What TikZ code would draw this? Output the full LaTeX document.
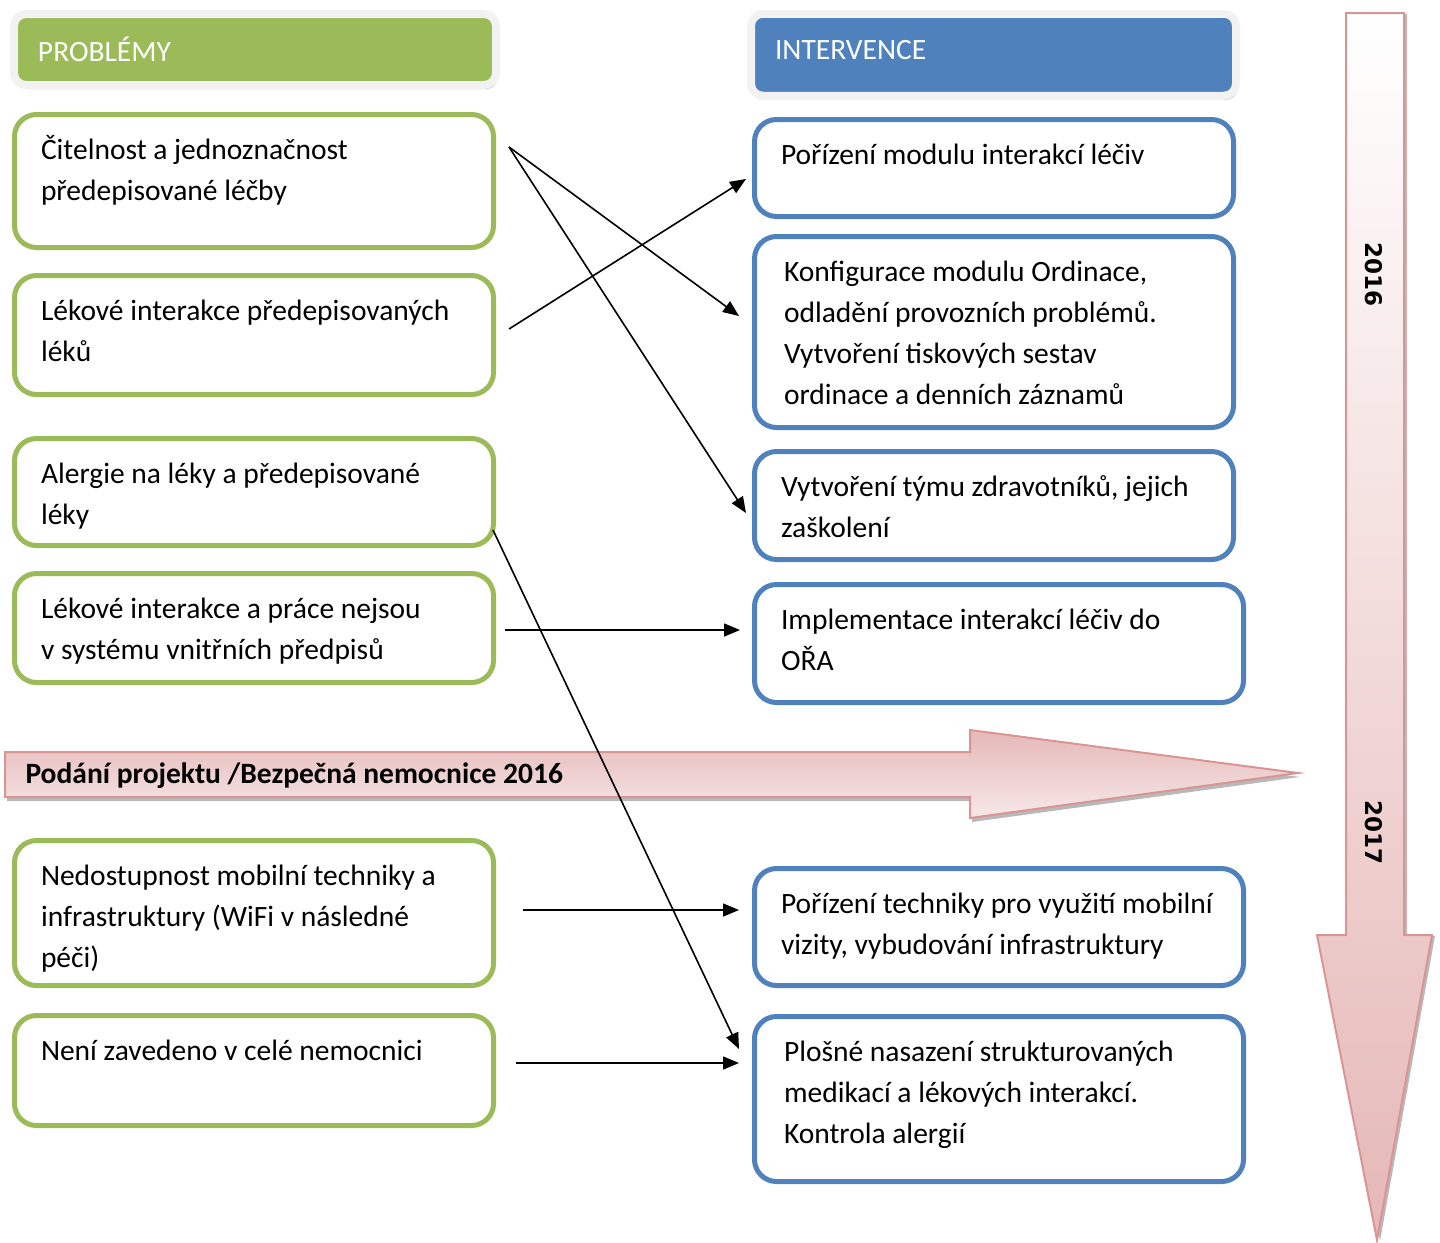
\documentclass[tikz,border=0pt]{standalone}
\usepackage{fontspec}
\setmainfont{Carlito}
\newfontfamily\yearfont{DejaVu Sans}
\usetikzlibrary{arrows.meta,shadows}
\definecolor{probgreen}{HTML}{9BBB59}
\definecolor{intblue}{HTML}{4F81BD}
\definecolor{hdgray}{HTML}{F2F2F2}
\definecolor{pinkline}{HTML}{D99594}
\definecolor{pinkdark}{HTML}{E5B8B7}
\definecolor{pinklight}{HTML}{F7E9E9}
\newcommand{\boxtxt}[3][426bp]{\parbox[c][#2][t]{#1}{\strut #3}}

\begin{document}
\begin{tikzpicture}[x=1bp,y=-1bp,
                    every node/.style={font=\fontsize{29.5bp}{41bp}\selectfont},
                    tbox/.style={rounded corners=22bp,line width=5bp,fill=white,
                                 anchor=north west,minimum width=479bp,outer sep=0pt,
                                 inner xsep=26.5bp,inner ysep=16bp,align=left},
                    gbox/.style={tbox,draw=probgreen},
                    bbox/.style={tbox,draw=intblue},
                    hdbox/.style={rounded corners=12bp,line width=8bp,draw=hdgray,
                                  text=white,align=left,
                                  drop shadow={shadow xshift=2bp,shadow yshift=-4bp,
                                               fill=gray!55,opacity=1}},
                    conn/.style={line width=1.6bp,-{Triangle[length=16bp,width=13bp]}},
                    bigarrow/.style={draw=pinkline,line width=2bp,line join=miter},
                    yearlab/.style={font=\yearfont\bfseries\fontsize{23bp}{28bp}\selectfont}
                   ]
 \useasboundingbox (0,0) rectangle (1440,1242);

 % headers
 \node[hdbox,fill=probgreen,minimum width=482bp,minimum height=71bp,
       text width=434bp] (probhd) at (255,49.5) {\raisebox{1bp}{PROBLÉMY}};
 \node[hdbox,fill=intblue,minimum width=485bp,minimum height=82bp,
       text width=437bp] (inthd) at (993.5,54.75) {\raisebox{10bp}{INTERVENCE}};

 % problems
 \node[gbox,minimum height=133bp] (p1) at (14.5,114.5)
      {\boxtxt{101bp}{Čitelnost a jednoznačnost\\předepisované léčby}};
 \node[gbox,minimum height=119bp] (p2) at (14.5,275.5)
      {\boxtxt{87bp}{Lékové interakce předepisovaných\\léků}};
 \node[gbox,minimum height=107bp] (p3) at (14.5,438.5)
      {\boxtxt{75bp}{Alergie na léky a předepisované\\léky}};
 \node[gbox,minimum height=109bp] (p4) at (14.5,573.5)
      {\boxtxt{77bp}{Lékové interakce a práce nejsou\\v systému vnitřních předpisů}};
 \node[gbox,minimum height=145bp] (p5) at (14.5,840.5)
      {\boxtxt{113bp}{Nedostupnost mobilní techniky a\\infrastruktury (WiFi v následné\\péči)}};
 \node[gbox,minimum height=110bp] (p6) at (14.5,1015.5)
      {\boxtxt{78bp}{Není zavedeno v celé nemocnici}};

 % interventions
 \node[bbox,minimum height=97bp] (i1) at (754.5,119.5)
      {\boxtxt{65bp}{Pořízení modulu interakcí léčiv}};
 \node[bbox,minimum height=191bp,inner xsep=29.5bp] (i2) at (754.5,236.5)
      {\boxtxt[420bp]{159bp}{Konfigurace modulu Ordinace,\\odladění provozních problémů.\\Vytvoření tiskových sestav\\ordinace a denních záznamů}};
 \node[bbox,minimum height=108bp] (i3) at (754.5,451.5)
      {\boxtxt{76bp}{Vytvoření týmu zdravotníků, jejich\\zaškolení}};
 \node[bbox,minimum width=489bp,minimum height=118bp] (i4) at (754.5,584.5)
      {\boxtxt[436bp]{86bp}{Implementace interakcí léčiv do\\OŘA}};
 \node[bbox,minimum width=489bp,minimum height=117bp] (i5) at (754.5,868.5)
      {\boxtxt[436bp]{85bp}{Pořízení techniky pro využití mobilní\\vizity, vybudování infrastruktury}};
 \node[bbox,minimum width=489bp,minimum height=165bp,inner xsep=29.5bp] (i6) at (754.5,1016.5)
      {\boxtxt[430bp]{133bp}{Plošné nasazení strukturovaných\\medikací a lékových interakcí.\\Kontrola alergií}};

 % project arrow
 \draw[bigarrow,top color=pinkdark,bottom color=pinklight,
       drop shadow={shadow xshift=2bp,shadow yshift=-4bp,fill=gray!55,opacity=1}]
      (5,752) -- (970,752) -- (970,730) -- (1298,773) -- (970,818)
      -- (970,797) -- (5,797) -- cycle;
 \node[font=\bfseries\fontsize{29.5bp}{32bp}\selectfont,anchor=west] (projlab)
      at (22,776) {Podání projektu /Bezpečná nemocnice 2016};

 % time arrow
 \draw[bigarrow,top color=white,bottom color=pinkdark,
       drop shadow={shadow xshift=3bp,shadow yshift=-1bp,fill=gray!55,opacity=1}]
      (1346,13) -- (1404,13) -- (1404,935) -- (1432,935) -- (1377,1240)
      -- (1317,935) -- (1346,935) -- cycle;
 \node[yearlab,rotate=-90] (y16) at (1374,274) {2016};
 \node[yearlab,rotate=-90] (y17) at (1374,832) {2017};

 % connectors
 \coordinate (s1) at (509,147);
 \coordinate (s2) at (509,329);
 \coordinate (s3) at (493,530);
 \coordinate (s4) at (505,630);
 \coordinate (s5) at (523,910);
 \coordinate (s6) at (516,1063);
 \coordinate (e1) at (746,179);
 \coordinate (e2) at (739,316);
 \coordinate (e3) at (746,513);
 \coordinate (e4) at (740,630);
 \coordinate (e5) at (739,910);
 \coordinate (e6) at (739,1049);
 \coordinate (e7) at (739,1063);

 \draw[conn] (s1) -- (e2);
 \draw[conn] (s1) -- (e3);
 \draw[conn] (s2) -- (e1);
 \draw[conn] (s4) -- (e4);
 \draw[conn] (s3) -- (e6);
 \draw[conn] (s5) -- (e5);
 \draw[conn] (s6) -- (e7);

\end{tikzpicture}
\end{document}
